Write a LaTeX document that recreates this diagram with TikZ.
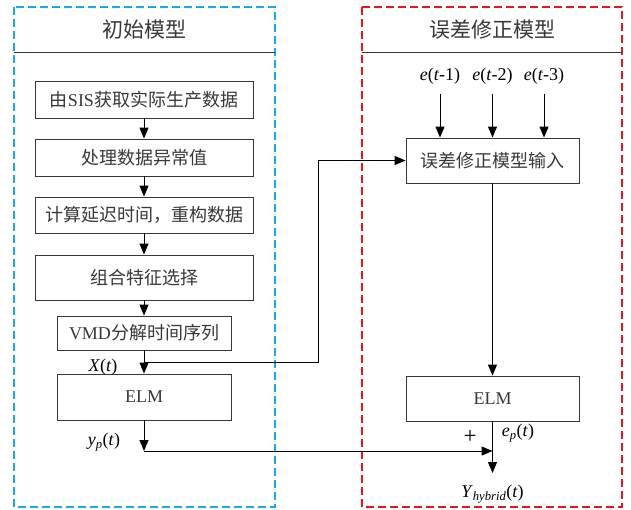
\documentclass[tikz,border=0pt]{standalone}
\usepackage{fontspec}
\setmainfont{Liberation Serif}
\newfontfamily\cjk{Noto Sans CJK SC}
\usetikzlibrary{arrows.meta}
\definecolor{skyblue}{RGB}{20,170,235}
\definecolor{errred}{RGB}{235,20,30}
\def\ink{black!78}
\tikzstyle{frame}=[line width=1.3pt,dash pattern=on 8pt off 4pt]
\tikzstyle{title}=[text=\ink,font=\cjk\fontsize{21}{24}\selectfont]
\tikzstyle{stepbox}=[draw=\ink,line width=0.9pt,rectangle,text=\ink,
                     font=\cjk\fontsize{18}{20}\selectfont,inner sep=0pt]
\tikzstyle{elmbox}=[stepbox,font=\fontsize{18}{20}\selectfont]
\tikzstyle{sym}=[font=\fontsize{18}{20}\selectfont,inner sep=1pt]
\tikzstyle{flow}=[-{Triangle[length=11pt,width=9pt]}]

\begin{document}
\begin{tikzpicture}[x=1pt,y=-1pt,line width=1pt]
  \useasboundingbox (0,0) rectangle (631,509);
  % Two frames with title bars
  \draw[frame,skyblue] (14,7) rectangle (275,507);
  \draw[frame,errred] (362,7) rectangle (622,507);
  \draw[\ink] (14,52) -- (275,52);
  \draw[\ink] (362,52) -- (622,52);
  \node[title] (tinit) at (144.5,30) {初始模型};
  \node[title] (terr) at (492,30) {误差修正模型};

  % Initial model
  \node[stepbox,minimum width=218pt,minimum height=37pt] (sis) at (144,99.5) {由{\rmfamily SIS}获取实际生产数据};
  \node[stepbox,minimum width=218pt,minimum height=37pt] (clean) at (144,157.5) {处理数据异常值};
  \node[stepbox,minimum width=218pt,minimum height=36pt] (delay) at (144,215) {计算延迟时间，重构数据};
  \node[stepbox,minimum width=218pt,minimum height=45pt] (feat) at (144,277.5) {组合特征选择};
  \node[stepbox,minimum width=174pt,minimum height=34pt] (vmd) at (144,333) {{\rmfamily VMD}分解时间序列};
  \node[elmbox,minimum width=174pt,minimum height=46pt] (elm1) at (144,397) {ELM};

  \path[flow] (sis) edge (clean);
  \path[flow] (clean) edge (delay);
  \path[flow] (delay) edge (feat);
  \path[flow] (feat) edge (vmd);
  \path[flow] (vmd) edge (elm1);

  \node[sym] (xlab) at (103,367) {\textit{X}(\textit{t})};
  \node[sym] (yplab) at (104,442) {\textit{y}\textsubscript{\textit{p}}(\textit{t})};

  % Error correction model
  \node[stepbox,minimum width=173pt,minimum height=45pt] (errin) at (492.5,160.5) {误差修正模型输入};
  \node[elmbox,minimum width=173pt,minimum height=45pt] (elm2) at (492.5,398.5) {ELM};

  \node[sym] (e1) at (440,76) {\textit{e}(\textit{t}-1)};
  \node[sym] (e2) at (492.5,76) {\textit{e}(\textit{t}-2)};
  \node[sym] (e3) at (544,76) {\textit{e}(\textit{t}-3)};
  \path[flow,shorten <=8pt] (e1) edge (e1 |- errin.north);
  \path[flow,shorten <=8pt] (e2) edge (e2 |- errin.north);
  \path[flow,shorten <=8pt] (e3) edge (e3 |- errin.north);
  \path[flow] (errin) edge (elm2);

  \node[sym,font=\fontsize{23}{24}\selectfont] (plus) at (470,437) {+};
  \node[sym] (eplab) at (518,433) {\textit{e}\textsubscript{\textit{p}}(\textit{t})};
  \node[sym] (ylab) at (492.5,494) {\textit{Y}\textsubscript{\textit{hybrid}}(\textit{t})};

  % Links between the two models
  \coordinate (xt) at (144,362);
  \coordinate (bend) at (318,362);
  \coordinate (yp) at (144,451);
  \coordinate (sum) at (492.5,451);
  \coordinate (out) at (492.5,473);
  \draw[flow] (xt) -- (bend) |- (errin.west);
  \path[flow] (elm1) edge (yp);
  \draw[flow] (yp) -- (sum);
  \draw[flow] (elm2) -- (out);
\end{tikzpicture}
\end{document}
